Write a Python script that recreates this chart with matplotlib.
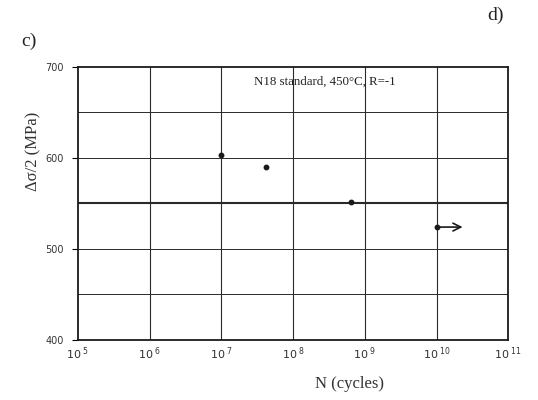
import numpy as np
import matplotlib.pyplot as plt

# fatigue data (N18 standard, 450°C, R=-1)
n_cycles = [1.0e7, 4.2e7, 6.3e8, 1.0e10]
stress = [603, 590, 551, 524]
runout = [False, False, False, True]

x_decades = [5, 6, 7, 8, 9, 10, 11]
y_ticks = [400, 500, 600, 700]
y_grid = [450, 500, 550, 600, 650]

fig = plt.figure(figsize=(5.38, 4.0), dpi=100)
ax = fig.add_axes([0.145, 0.15, 0.80, 0.683])

ax.set_xscale('log')
ax.set_xlim(1e5, 1e11)
ax.set_ylim(400, 700)

# grid drawn by hand so the 550 line can be heavier
for d in x_decades[1:-1]:
    ax.axvline(10.0**d, color='#2a2a2a', lw=0.8, zorder=1)
for g in y_grid:
    ax.axhline(g, color='#2a2a2a', lw=1.5 if g == 550 else 0.7, zorder=1)

for s in ax.spines.values():
    s.set_linewidth(1.3)
    s.set_color('#1a1a1a')

ax.plot(n_cycles, stress, 'o', color='#1a1a1a', ms=3.2, zorder=3)
for n, s, r in zip(n_cycles, stress, runout):
    if r:
        ax.annotate('', xy=(n * 10**0.4, s), xytext=(n, s),
                    arrowprops=dict(arrowstyle='->', color='#1a1a1a', lw=1.2,
                                    mutation_scale=14))

ax.set_xticks([10.0**d for d in x_decades])
ax.set_xticklabels([r'$\mathregular{10^{\ %d}}$' % d for d in x_decades],
                   fontsize=8, family='DejaVu Sans', color='#333333')
ax.xaxis.set_minor_locator(plt.NullLocator())
ax.tick_params(axis='x', length=0, pad=4)

ax.set_yticks(y_ticks)
ax.set_yticklabels([str(v) for v in y_ticks], fontsize=7, color='#333333')
ax.tick_params(axis='y', length=4, width=0.8, pad=6)

ax.text(10**7.45, 680, 'N18 standard, 450°C, R=-1', fontsize=9.3,
        family='Liberation Serif', color='#222222')

ax.set_ylabel('Δσ/2 (MPa)', fontsize=12, family='Liberation Serif', color='#333333')
ax.yaxis.set_label_coords(-0.085, 0.69)
ax.set_xlabel('N (cycles)', fontsize=12, family='Liberation Serif', color='#333333')
ax.xaxis.set_label_coords(0.63, -0.13)

fig.text(0.04, 0.885, 'c)', fontsize=14, family='Liberation Serif', color='#222222')
fig.text(0.905, 0.95, 'd)', fontsize=14, family='Liberation Serif', color='#222222')

fig.savefig('out.png', dpi=100)
